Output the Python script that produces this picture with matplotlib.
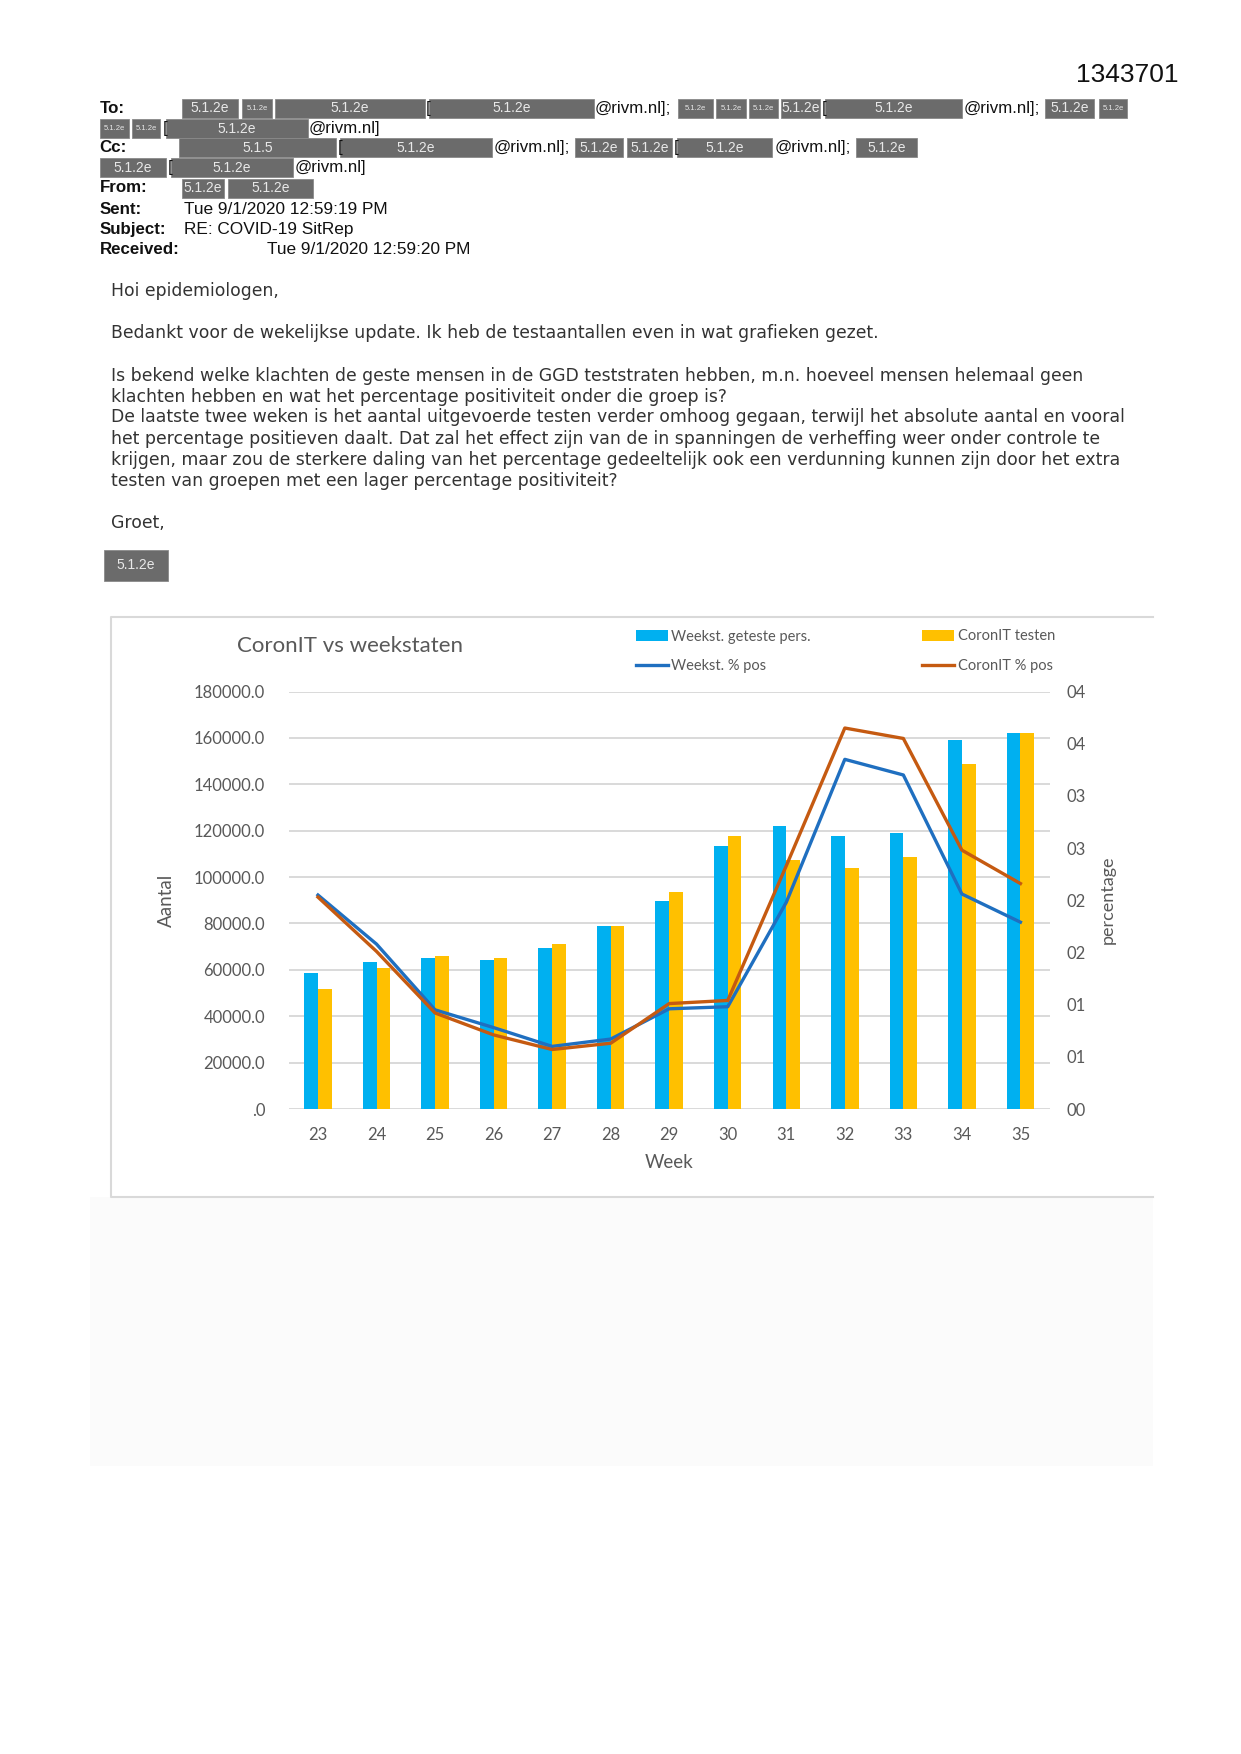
import numpy as np
import matplotlib
matplotlib.use("Agg")
import matplotlib.pyplot as plt
from matplotlib.patches import Rectangle
from matplotlib.ticker import FuncFormatter

plt.rcParams['font.family'] = ['Lato', 'DejaVu Sans']

# ---- chart data ----
weeks = ['23', '24', '25', '26', '27', '28', '29', '30', '31', '32', '33', '34', '35']
weekst_tested = [58600, 63500, 65300, 64300, 69400, 78800, 89600, 113600, 122000, 117500, 119200, 159000, 161900]
coronit_tests = [51700, 60900, 66000, 65000, 71100, 78800, 93500, 117500, 107200, 104000, 108800, 148900, 161900]
weekst_pos = [0.0205, 0.0158, 0.0095, 0.0078, 0.0060, 0.0067, 0.0096, 0.0098, 0.0198, 0.0335, 0.0320, 0.0206, 0.0179]
coronit_pos = [0.0203, 0.0151, 0.0092, 0.0071, 0.0057, 0.0063, 0.0101, 0.0104, 0.0233, 0.0365, 0.0355, 0.0248, 0.0216]
series_names = ['Weekst. geteste pers.', 'Weekst. % pos', 'CoronIT testen', 'CoronIT % pos']

W, H = 1241, 1754
fig = plt.figure(figsize=(W / 100, H / 100), dpi=100)
fig.patch.set_facecolor('white')

# background axes in pixel coordinates for the e-mail part
bg = fig.add_axes([0, 0, 1, 1])
bg.set_xlim(0, W)
bg.set_ylim(H, 0)
bg.axis('off')

HDR = 'Liberation Sans'
BODY = 'DejaVu Sans'
red_fill = '#6b6b6b'

bg.text(1178, 75, '1343701', ha='right', va='center', fontsize=19, family=HDR, color='#111111')

# header labels
for lab, y in [('To:', 108.5), ('Cc:', 147.7), ('From:', 188), ('Sent:', 209),
               ('Subject:', 229.4), ('Received:', 249.5)]:
    bg.text(99.6, y, lab, ha='left', va='center', fontsize=12.2, family=HDR,
            weight='bold', color='#111111')

bg.text(183.5, 209, 'Tue 9/1/2020 12:59:19 PM', ha='left', va='center', fontsize=12.4, family=HDR, color='#111111')
bg.text(183.5, 229.4, 'RE: COVID-19 SitRep', ha='left', va='center', fontsize=12.4, family=HDR, color='#111111')
bg.text(267, 249.5, 'Tue 9/1/2020 12:59:20 PM', ha='left', va='center', fontsize=12.4, family=HDR, color='#111111')

# redaction boxes: (x0, x1, y, label, small)
boxes = [
    (182, 238, 108.5, '5.1.2e', False), (242, 272, 108.5, '5.1.2e', True),
    (275, 425, 108.5, '5.1.2e', False), (429, 594, 108.5, '5.1.2e', False),
    (678, 713, 108.5, '5.1.2e', True), (716, 746, 108.5, '5.1.2e', True),
    (749, 778, 108.5, '5.1.2e', True), (781, 820, 108.5, '5.1.2e', False),
    (825, 962, 108.5, '5.1.2e', False), (1045, 1094, 108.5, '5.1.2e', False),
    (1099, 1127, 108.5, '5.1.2e', True),
    (100, 129, 128.7, '5.1.2e', True), (132, 160, 128.7, '5.1.2e', True),
    (166, 308, 128.7, '5.1.2e', False),
    (179, 336, 147.7, '5.1.5', False), (340, 492, 147.7, '5.1.2e', False),
    (575, 623, 147.7, '5.1.2e', False), (627, 671.5, 147.7, '5.1.2e', False),
    (677, 772, 147.7, '5.1.2e', False), (856, 916.5, 147.7, '5.1.2e', False),
    (100, 166, 167.8, '5.1.2e', False), (171, 293, 167.8, '5.1.2e', False),
    (182, 224, 188, '5.1.2e', False), (228, 313, 188, '5.1.2e', False),
]
for x0, x1, y, lab, small in boxes:
    bg.add_patch(Rectangle((x0, y - 9.5), x1 - x0, 19, facecolor=red_fill,
                           edgecolor='#8a8a8a', lw=0.6))
    bg.text((x0 + x1) / 2, y, lab, ha='center', va='center',
            fontsize=5.5 if small else 10, family=HDR, color='#e8e8e8')

# brackets and addresses
for x, y, s in [(426, 108.5, '['), (595, 108.5, '@rivm.nl];'), (822, 108.5, '['),
                (963.5, 108.5, '@rivm.nl];'), (162.3, 128.7, '['), (309, 128.7, '@rivm.nl]'),
                (337.5, 147.7, '['), (493.5, 147.7, '@rivm.nl];'), (673.7, 147.7, '['),
                (774.4, 147.7, '@rivm.nl];'), (167.9, 167.8, '['), (294.3, 167.8, '@rivm.nl]')]:
    bg.text(x, y, s, ha='left', va='center', fontsize=12.2, family=HDR, color='#111111')

# body of the mail
body_lines = [
    (291, 'Hoi epidemiologen,'),
    (333.5, 'Bedankt voor de wekelijkse update. Ik heb de testaantallen even in wat grafieken gezet.'),
    (376, 'Is bekend welke klachten de geste mensen in de GGD teststraten hebben, m.n. hoeveel mensen helemaal geen'),
    (396.5, 'klachten hebben en wat het percentage positiviteit onder die groep is?'),
    (417.5, 'De laatste twee weken is het aantal uitgevoerde testen verder omhoog gegaan, terwijl het absolute aantal en vooral'),
    (438.7, 'het percentage positieven daalt. Dat zal het effect zijn van de in spanningen de verheffing weer onder controle te'),
    (460, 'krijgen, maar zou de sterkere daling van het percentage gedeeltelijk ook een verdunning kunnen zijn door het extra'),
    (481.2, 'testen van groepen met een lager percentage positiviteit?'),
    (522.6, 'Groet,'),
]
for y, s in body_lines:
    bg.text(110.8, y, s, ha='left', va='center', fontsize=12.45, family=BODY, color='#333333')

bg.add_patch(Rectangle((104, 549.5), 64, 31.3, facecolor=red_fill, edgecolor='#8a8a8a', lw=0.6))
bg.text(136, 565, '5.1.2e', ha='center', va='center', fontsize=10, family=HDR, color='#e8e8e8')

# faint scan background and chart frame
bg.add_patch(Rectangle((89.5, 1197), 1063, 269, facecolor='#fbfbfb', edgecolor='none'))
bg.plot([1152.7, 110.8, 110.8, 1152.7], [616.6, 616.6, 1197.4, 1197.4], color='#d9d9d9', lw=1.5)

grey = '#595959'
bg.text(237, 645.7, 'CoronIT vs weekstaten', ha='left', va='center', fontsize=16, color=grey)

# ---- the chart ----
ax = fig.add_axes([288.7 / W, 1 - 1109 / H, 761 / W, 417.5 / H])
ax.set_facecolor('none')
x = np.arange(len(weeks))
w = 0.235
b1 = ax.bar(x - w / 2, weekst_tested, w, color='#00B0F0', zorder=2)
b2 = ax.bar(x + w / 2, coronit_tests, w, color='#FFC000', zorder=2)
ax.set_xlim(-0.5, len(weeks) - 0.5)
ax.set_ylim(0, 180000)
ax.set_yticks(np.arange(0, 180001, 20000))
ax.yaxis.set_major_formatter(FuncFormatter(lambda v, p: ('%.1f' % v).lstrip('0')))
ax.set_xticks(x)
ax.set_xticklabels(weeks)
ax.yaxis.grid(True, color='#d9d9d9', lw=1.4)
ax.set_axisbelow(True)
for s in ax.spines.values():
    s.set_visible(False)
ax.tick_params(axis='y', length=0, pad=17, labelsize=12, labelcolor=grey)
ax.tick_params(axis='x', length=0, pad=13, labelsize=12, labelcolor=grey)
ax.set_ylabel('Aantal', fontsize=13.5, color=grey)
ax.yaxis.set_label_coords(-0.150, 0.5)
ax.set_xlabel('Week', fontsize=13.5, color=grey)
ax.xaxis.set_label_coords(0.5, -0.1286)
ax.xaxis.label.set_va('center')

ax2 = ax.twinx()
l1, = ax2.plot(x, weekst_pos, color='#1F6FC0', lw=2.4, zorder=3)
l2, = ax2.plot(x, coronit_pos, color='#C55A11', lw=2.4, zorder=3)
ax2.set_ylim(0, 0.04)
ax2.set_yticks(np.arange(0, 0.04001, 0.005))
ax2.yaxis.set_major_formatter(FuncFormatter(lambda v, p: '%02d' % int(v * 100 + 0.5 + 1e-9)))
for s in ax2.spines.values():
    s.set_visible(False)
ax2.tick_params(axis='y', length=0, pad=12, labelsize=12, labelcolor=grey)
ax2.set_ylabel('percentage', fontsize=13, color=grey, rotation=90)
ax2.yaxis.set_label_coords(1.0766, 0.5)
ax2.yaxis.label.set_va('center')

fig.legend(handles=[b1, l1, b2, l2], labels=series_names, ncol=2,
           loc='upper left', bbox_to_anchor=(635.7 / W, 1 - 629.5 / H),
           bbox_transform=fig.transFigure, frameon=False, fontsize=10.5,
           labelcolor=grey, handlelength=2.2, handletextpad=0.25,
           columnspacing=7.6, labelspacing=1.05, borderpad=0, borderaxespad=0)

fig.savefig('out.png', dpi=100, facecolor='white')
